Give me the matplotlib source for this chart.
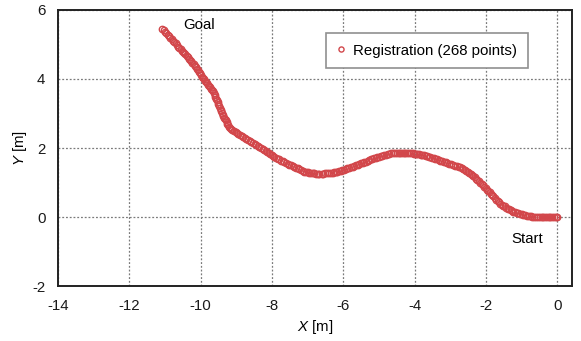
import matplotlib
matplotlib.use("Agg")
import matplotlib.pyplot as plt

plt.rcParams["font.family"] = ["Liberation Sans", "DejaVu Sans"]
plt.rcParams["mathtext.fontset"] = "custom"
plt.rcParams["mathtext.rm"] = "Liberation Sans"
plt.rcParams["mathtext.it"] = "Liberation Sans:italic"

# Registered robot positions, from Start (0, 0) to Goal
track_x = [
    0.00, -0.05, -0.10, -0.15, -0.20, -0.24, -0.29, -0.34,
    -0.39, -0.44, -0.49, -0.54, -0.59, -0.65, -0.70, -0.75, -0.80,
    -0.85, -0.90, -0.95, -0.99, -1.04, -1.09, -1.14, -1.18,
    -1.23, -1.27, -1.31, -1.35, -1.39, -1.44, -1.48, -1.52, -1.56,
    -1.60, -1.64, -1.67, -1.71, -1.75, -1.79, -1.82, -1.86, -1.90, -1.93,
    -1.97, -2.01, -2.05, -2.08, -2.12, -2.16, -2.20, -2.24, -2.27, -2.31,
    -2.35, -2.39, -2.43, -2.47, -2.51, -2.56, -2.60, -2.64, -2.68,
    -2.72, -2.77, -2.82, -2.87, -2.92, -2.97, -3.03, -3.08, -3.13, -3.18, -3.23,
    -3.28, -3.33, -3.37, -3.42, -3.46, -3.51, -3.56, -3.60, -3.65, -3.69,
    -3.74, -3.79, -3.83, -3.88, -3.93, -3.97, -4.02, -4.06,
    -4.11, -4.16, -4.21, -4.26, -4.31, -4.35, -4.40, -4.45,
    -4.50, -4.56, -4.61,
    -4.67, -4.72, -4.76, -4.81, -4.86, -4.91, -4.95, -5.00, -5.05, -5.09,
    -5.14, -5.19, -5.23, -5.28, -5.32, -5.37, -5.42, -5.46, -5.51, -5.55,
    -5.60, -5.65, -5.70, -5.74, -5.79, -5.84, -5.89, -5.93,
    -5.98, -6.03, -6.07, -6.12, -6.17, -6.21, -6.26, -6.30,
    -6.35, -6.40, -6.46, -6.51, -6.56, -6.61, -6.67,
    -6.72, -6.77, -6.81, -6.86, -6.91, -6.95, -7.00, -7.04,
    -7.09, -7.14, -7.19, -7.23, -7.28, -7.33, -7.38, -7.42,
    -7.47, -7.52, -7.56, -7.61, -7.65, -7.70, -7.75, -7.79, -7.84, -7.88,
    -7.93, -7.97, -8.01, -8.05, -8.09, -8.14, -8.18, -8.22, -8.26,
    -8.30, -8.35, -8.39, -8.44, -8.49, -8.54, -8.58, -8.63, -8.68, -8.72,
    -8.77, -8.81, -8.85, -8.90, -8.94, -8.98, -9.02, -9.06, -9.11, -9.15,
    -9.19, -9.21, -9.23, -9.25, -9.27, -9.29, -9.32, -9.34, -9.36, -9.38, -9.40,
    -9.42, -9.44, -9.46, -9.48, -9.50, -9.52, -9.55, -9.57, -9.59, -9.61, -9.63,
    -9.65, -9.68, -9.71, -9.73, -9.76, -9.79, -9.82, -9.85, -9.87, -9.90,
    -9.93, -9.96, -9.99, -10.02, -10.05, -10.08, -10.11, -10.14, -10.17, -10.20, -10.23,
    -10.26, -10.29, -10.33, -10.36, -10.39, -10.43, -10.46, -10.50, -10.53, -10.56, -10.60,
    -10.63, -10.67, -10.70, -10.74, -10.78, -10.81, -10.85, -10.89, -10.92, -10.96, -11.00, -11.03,
    -11.07,
]
track_y = [
    0.00, 0.00, 0.00, 0.00, 0.00, 0.00, 0.00, 0.00,
    0.00, 0.00, 0.00, 0.01, 0.01, 0.02, 0.02, 0.03, 0.03,
    0.04, 0.05, 0.07, 0.08, 0.10, 0.11, 0.12, 0.14,
    0.15, 0.17, 0.20, 0.23, 0.25, 0.28, 0.31, 0.33, 0.36,
    0.39, 0.43, 0.47, 0.51, 0.55, 0.60, 0.64, 0.68, 0.72, 0.76,
    0.80, 0.84, 0.88, 0.92, 0.96, 1.00, 1.04, 1.08, 1.12, 1.16,
    1.20, 1.23, 1.25, 1.28, 1.31, 1.33, 1.36, 1.39, 1.41,
    1.44, 1.46, 1.48, 1.49, 1.51, 1.53, 1.55, 1.57, 1.59, 1.60, 1.62,
    1.64, 1.66, 1.67, 1.69, 1.70, 1.72, 1.73, 1.75, 1.76, 1.78,
    1.79, 1.80, 1.81, 1.82, 1.83, 1.83, 1.84, 1.85,
    1.86, 1.86, 1.87, 1.87, 1.87, 1.87, 1.87, 1.87,
    1.87, 1.86, 1.86,
    1.85, 1.84, 1.82, 1.81, 1.79, 1.78, 1.77, 1.75, 1.74, 1.72,
    1.71, 1.69, 1.67, 1.65, 1.63, 1.61, 1.60, 1.58, 1.56, 1.54,
    1.52, 1.50, 1.48, 1.46, 1.45, 1.43, 1.41, 1.39,
    1.37, 1.36, 1.35, 1.34, 1.32, 1.31, 1.30, 1.29,
    1.28, 1.27, 1.27, 1.27, 1.26, 1.26, 1.26,
    1.26, 1.26, 1.27, 1.27, 1.28, 1.29, 1.30, 1.31,
    1.32, 1.34, 1.36, 1.39, 1.41, 1.43, 1.45, 1.48,
    1.50, 1.52, 1.55, 1.57, 1.60, 1.62, 1.64, 1.67, 1.69, 1.72,
    1.74, 1.77, 1.80, 1.83, 1.86, 1.88, 1.91, 1.94, 1.97,
    2.00, 2.03, 2.06, 2.09, 2.12, 2.15, 2.17, 2.20, 2.23, 2.26,
    2.29, 2.32, 2.35, 2.38, 2.41, 2.44, 2.46, 2.49, 2.52, 2.55,
    2.58, 2.62, 2.67, 2.71, 2.75, 2.80, 2.84, 2.88, 2.93, 2.97, 3.02,
    3.06, 3.11, 3.17, 3.22, 3.27, 3.32, 3.38, 3.43, 3.48, 3.53, 3.59,
    3.64, 3.68, 3.72, 3.76, 3.80, 3.84, 3.87, 3.91, 3.95, 3.99,
    4.03, 4.07, 4.12, 4.16, 4.20, 4.25, 4.29, 4.34, 4.38, 4.42, 4.47,
    4.51, 4.55, 4.59, 4.63, 4.67, 4.71, 4.74, 4.78, 4.82, 4.86, 4.90,
    4.94, 4.98, 5.03, 5.07, 5.11, 5.15, 5.20, 5.24, 5.28, 5.32, 5.37, 5.41,
    5.45,
]

x_ticks = [-14, -12, -10, -8, -6, -4, -2, 0]
y_ticks = [-2, 0, 2, 4, 6]
series_label = f"Registration ({len(track_x)} points)"

fig = plt.figure(figsize=(5.81, 3.41), dpi=100)
ax = fig.add_axes([0.0998, 0.1604, 0.8852, 0.8106])

ax.plot(track_x, track_y, linestyle="none", marker="o", markersize=4.6,
        markerfacecolor="none", markeredgecolor="#d2474b", markeredgewidth=1.0,
        label=series_label, zorder=3)

ax.set_xlim(-14, 0.42)
ax.set_ylim(-2, 6)
ax.set_xticks(x_ticks)
ax.set_yticks(y_ticks)
ax.set_xticklabels([str(v) for v in x_ticks])
ax.set_yticklabels([str(v) for v in y_ticks])
ax.tick_params(length=0, labelsize=10.8, pad=9, colors="#1a1a1a")
ax.grid(True, linestyle=(0, (1.5, 1.5)), color="#7a7a7a", linewidth=0.9)
for side in ax.spines.values():
    side.set_linewidth(1.4)
    side.set_color("#222222")

ax.set_xlabel(r"$\it{X}$ [m]", fontsize=10.8, labelpad=4)
ax.set_ylabel(r"$\it{Y}$ [m]", fontsize=10.8, labelpad=2)

ax.text(-10.04, 5.55, "Goal", fontsize=10.8, ha="center", va="center")
ax.text(-0.84, -0.63, "Start", fontsize=10.8, ha="center", va="center")

leg = ax.legend(loc="center", bbox_to_anchor=(0.7175, 0.853), fontsize=10.8,
                frameon=True, fancybox=False, framealpha=1, edgecolor="#909090",
                handlelength=0.6, handletextpad=0.5, borderpad=0.7,
                borderaxespad=0, markerscale=0.8)
leg.get_frame().set_linewidth(1.2)

fig.savefig("out.png", dpi=100)
